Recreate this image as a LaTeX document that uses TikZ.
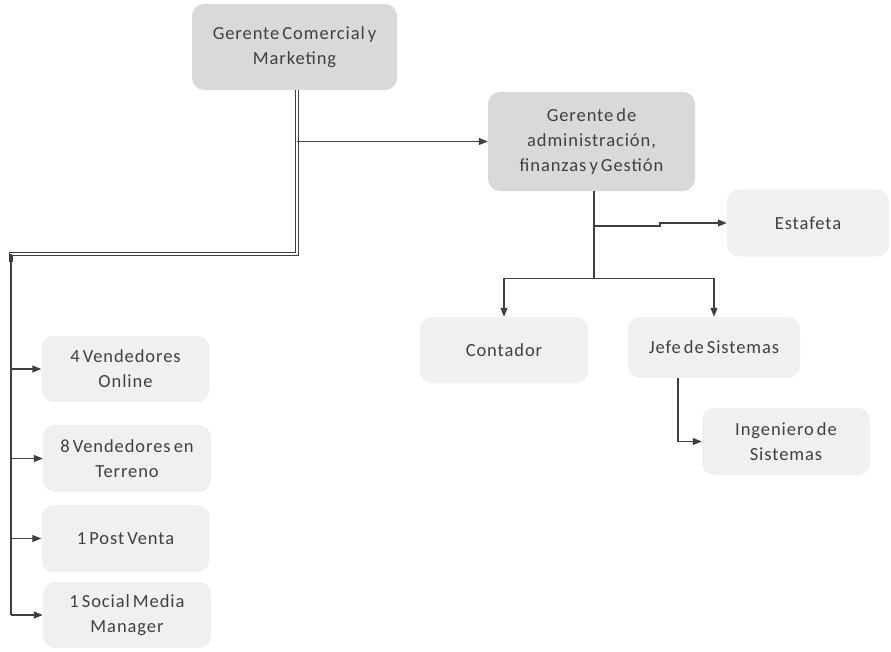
\documentclass[tikz,border=0pt]{standalone}
\usepackage{fontspec}
\setmainfont{Carlito}[LetterSpace=5,WordSpace=0.6]
\usepackage{tikz}
\usetikzlibrary{arrows.meta,calc}
\definecolor{boxdark}{HTML}{D9D9D9}
\definecolor{boxlight}{HTML}{F0F0F0}
\definecolor{ink}{HTML}{404040}

\begin{document}
\begin{tikzpicture}[x=1pt,y=-1pt,
  head/.style={rectangle, rounded corners=12pt, fill=boxdark, text=ink,
    align=center, font=\fontsize{18.5}{25}\selectfont, inner sep=0pt},
  staff/.style={rectangle, rounded corners=12pt, fill=boxlight, text=ink,
    align=center, font=\fontsize{18.5}{25}\selectfont, inner sep=0pt,
    minimum width=168pt, minimum height=66pt},
  arr/.style={-{Triangle[length=9pt,width=7pt]}, line width=1.2pt, ink},
  link/.style={line width=1.2pt, ink},
]
\useasboundingbox (0,0) rectangle (891,651);
\node[head, minimum width=205pt, minimum height=86pt] (gerente) at (294.5,47)
  {Gerente Comercial y\\Marketing};
\node[head, minimum width=207pt, minimum height=99pt] (admin) at (591.5,141.5)
  {Gerente de\\administración,\\finanzas y Gestión};
\node[staff, minimum width=162pt, minimum height=67pt] (estafeta) at (808,223) {Estafeta};
\node[staff] (contador) at (504,350) {Contador};
\node[staff, minimum width=172pt, minimum height=61pt] (jefe) at (714,347.5) {Jefe de Sistemas};
\node[staff, minimum height=67pt] (ingeniero) at (786,441.5) {Ingeniero de\\Sistemas};
\node[staff] (vend1) at (125.5,369) {4 Vendedores\\Online};
\node[staff, minimum height=67pt] (vend2) at (127,458.5) {8 Vendedores en\\Terreno};
\node[staff, minimum height=67pt] (vend3) at (125.5,538.5) {1 Post Venta};
\node[staff] (vend4) at (127,615) {1 Social Media\\Manager};
\coordinate (drop) at ([xshift=2.5pt]gerente.south);
\coordinate (bus) at (11,254);
\coordinate (split) at ($(admin.south)+(2.5,87)$);
% comercial side
\draw[link, double=white, double distance=1.6pt] (drop) -- (drop |- bus) -- (bus) -- ++(0,8);
\draw[link] (bus) -- (bus |- vend4.west);
\draw[arr] (drop |- admin.west) -- (admin.west);
\foreach \v in {vend1,vend2,vend3,vend4}
  \draw[arr] (bus |- \v.west) -- (\v.west);
% administracion side
\draw[link] ([xshift=2.5pt]admin.south) -- (split);
\draw[arr] (split) -| (contador.north);
\draw[arr] (split) -| (jefe.north);
\draw[arr] (split |- 0,226) -- (660,226) -- (660,223) -- (estafeta.west);
\draw[arr] ([xshift=-36pt]jefe.south) |- (ingeniero.west);
\end{tikzpicture}
\end{document}
